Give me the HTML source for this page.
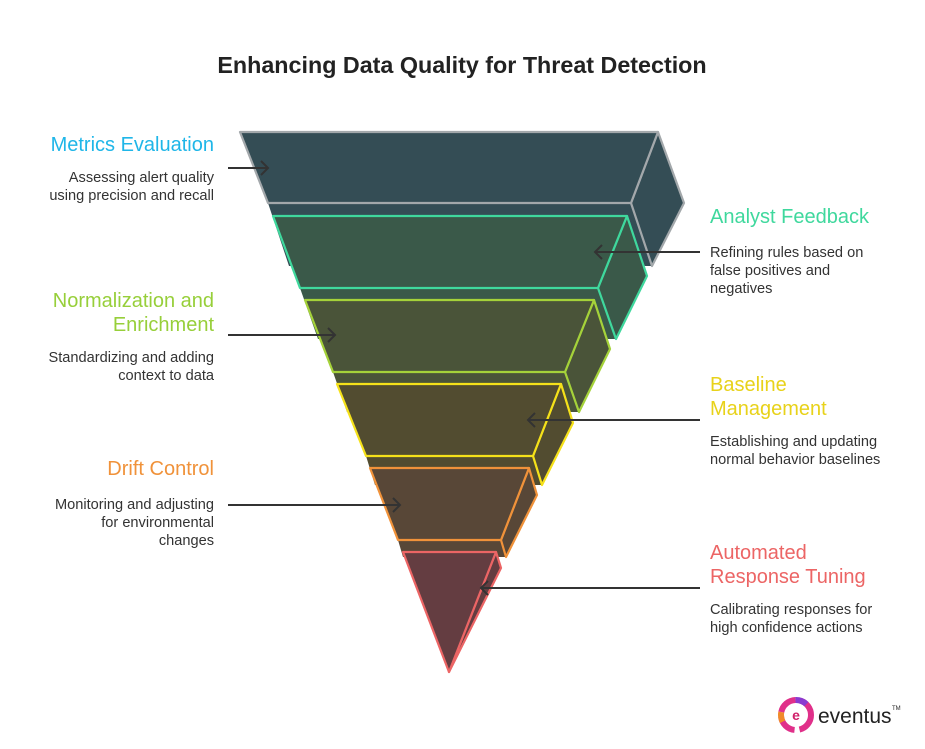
<!DOCTYPE html>
<html><head><meta charset="utf-8"><style>
body{margin:0;background:#fff;width:925px;height:744px;overflow:hidden;font-family:"Liberation Sans",sans-serif;}
</style></head><body>
<svg width="925" height="744" viewBox="0 0 925 744" xmlns="http://www.w3.org/2000/svg" font-family="Liberation Sans, sans-serif">
<text x="462" y="73" text-anchor="middle" font-size="23.3" font-weight="bold" fill="#222">Enhancing Data Quality for Threat Detection</text>
<g stroke-width="2.2" stroke-linejoin="round">
<!-- layer1 -->
<g fill="#344d55" stroke="#a3a8ab">
<polygon points="268,203 631,203 652,266 289,266" stroke="none"/>
<polygon points="658,132 684,203 652,266 631,203"/>
<polygon points="240,132 658,132 631,203 268,203"/>
</g>
<!-- layer2 -->
<g fill="#3a5949" stroke="#3fd89d">
<polygon points="300,288 598,288 616,339 318,339" stroke="none"/>
<polygon points="627,216 647,276 616,339 598,288"/>
<polygon points="273,216 627,216 598,288 300,288"/>
</g>
<!-- layer3 -->
<g fill="#4a5439" stroke="#a5d23a">
<polygon points="333,372 565,372 579,412 347,412" stroke="none"/>
<polygon points="594,300 610,349 579,412 565,372"/>
<polygon points="305,300 594,300 565,372 333,372"/>
</g>
<!-- layer4 -->
<g fill="#524c30" stroke="#f5e11a">
<polygon points="366,456 533,456 542,485 375,485" stroke="none"/>
<polygon points="561,384 573,423 542,485 533,456"/>
<polygon points="337,384 561,384 533,456 366,456"/>
</g>
<!-- layer5 -->
<g fill="#584737" stroke="#f0923a">
<polygon points="398,540 501,540 506,557 403,557" stroke="none"/>
<polygon points="529,468 537,495 506,557 501,540"/>
<polygon points="370,468 529,468 501,540 398,540"/>
</g>
<!-- layer6 -->
<g fill="#643d41" stroke="#ec6565">
<polygon points="496,552 501,568 449,672"/>
<polygon points="403,552 496,552 449,672"/>
</g>
</g>
<!-- arrows -->
<g stroke="#333" stroke-width="2" fill="none">
<line x1="228" y1="168" x2="268" y2="168"/><polyline points="261,161 268,168 261,175"/>
<line x1="700" y1="252" x2="595" y2="252"/><polyline points="602,245 595,252 602,259"/>
<line x1="228" y1="335" x2="335" y2="335"/><polyline points="328,328 335,335 328,342"/>
<line x1="700" y1="420" x2="528" y2="420"/><polyline points="535,413 528,420 535,427"/>
<line x1="228" y1="505" x2="400" y2="505"/><polyline points="393,498 400,505 393,512"/>
<line x1="700" y1="588" x2="481" y2="588"/><polyline points="488,581 481,588 488,595"/>
</g>
<!-- left labels -->
<g text-anchor="end" font-size="14.6" fill="#333">
<text x="214" y="151" font-size="20" fill="#1fb6e8">Metrics Evaluation</text>
<text x="214" y="182">Assessing alert quality</text>
<text x="214" y="200">using precision and recall</text>
<text x="214" y="307" font-size="20" fill="#97cf3a">Normalization and</text>
<text x="214" y="331" font-size="20" fill="#97cf3a">Enrichment</text>
<text x="214" y="362">Standardizing and adding</text>
<text x="214" y="380">context to data</text>
<text x="214" y="475" font-size="20" fill="#f0923a">Drift Control</text>
<text x="214" y="509">Monitoring and adjusting</text>
<text x="214" y="527">for environmental</text>
<text x="214" y="545">changes</text>
</g>
<!-- right labels -->
<g font-size="14.6" fill="#333">
<text x="710" y="223" font-size="20" fill="#3fd89d">Analyst Feedback</text>
<text x="710" y="257">Refining rules based on</text>
<text x="710" y="275">false positives and</text>
<text x="710" y="293">negatives</text>
<text x="710" y="391" font-size="20" fill="#e8d21a">Baseline</text>
<text x="710" y="415" font-size="20" fill="#e8d21a">Management</text>
<text x="710" y="446">Establishing and updating</text>
<text x="710" y="464">normal behavior baselines</text>
<text x="710" y="559" font-size="20" fill="#ec6565">Automated</text>
<text x="710" y="583" font-size="20" fill="#ec6565">Response Tuning</text>
<text x="710" y="614">Calibrating responses for</text>
<text x="710" y="632">high confidence actions</text>
</g>
<!-- logo -->
<g>
<circle cx="796" cy="715" r="15" fill="none" stroke="#e0308a" stroke-width="6" stroke-dasharray="20 5"/>
<circle cx="796" cy="715" r="15" fill="none" stroke="#f08a2a" stroke-width="6" stroke-dasharray="10 84" stroke-dashoffset="-40"/>
<circle cx="796" cy="715" r="15" fill="none" stroke="#8a3ad0" stroke-width="6" stroke-dasharray="12 84" stroke-dashoffset="-70"/>
<text x="796" y="720" text-anchor="middle" font-size="14" font-weight="bold" fill="#d0206a">e</text>
<text x="818" y="723" font-size="21" fill="#222">eventus</text>
<text x="892" y="710" font-size="6" fill="#222">TM</text>
</g>
</svg>
</body></html>
